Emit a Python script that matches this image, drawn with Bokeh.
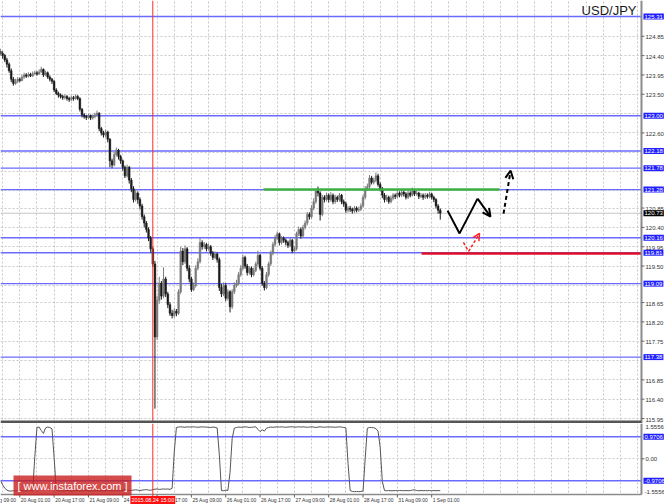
from bokeh.plotting import figure
from bokeh.models import (Range1d, FixedTicker, Span, Label, Arrow, OpenHead,
                          ColumnDataSource, BoxAnnotation)
from bokeh.layouts import column
from bokeh.embed import file_html
from bokeh.resources import INLINE

# ---------------- data ----------------
TITLE = "USD/JPY"
FIRST_BAR = 7            # index of the first visible H1 bar (19 Aug 09:00 = bar 0)
FIRST_OPEN = 124.50

CLOSE = [
    124.45, 124.40, 124.30, 124.20, 124.05, 123.85, 123.75, 123.80, 123.85, 123.82,
    123.90, 123.95, 123.92, 123.96, 123.93, 123.98, 124.00, 123.97, 124.02, 124.08,
    123.95, 124.00, 123.90, 123.85, 123.80, 123.60, 123.52, 123.48, 123.45, 123.42,
    123.45, 123.40, 123.38, 123.42, 123.40, 123.45, 123.40, 123.15, 123.02, 122.98,
    122.96, 123.00, 122.95, 122.98, 123.02, 123.06, 122.70, 122.60, 122.55, 122.62,
    122.45, 121.95, 121.85, 122.10, 122.20, 122.05, 121.95, 121.80, 121.60, 121.80,
    121.50, 121.30, 121.05, 121.20, 121.05, 120.90, 120.65, 120.50, 120.35, 120.15,
    119.90, 119.55, 117.85, 118.70, 119.10, 118.80, 119.20, 118.85, 118.60, 118.40,
    118.35, 118.45, 118.40, 118.90, 119.85, 119.60, 119.90, 119.45, 119.20, 118.95,
    119.05, 119.45, 119.60, 120.05, 119.95, 120.00, 119.90, 119.95, 119.80, 119.70,
    119.78, 119.65, 119.00, 118.85, 119.05, 118.75, 118.90, 118.55, 118.90, 119.05,
    119.10, 119.30, 119.45, 119.70, 119.50, 119.35, 119.45, 119.30, 119.40, 119.55,
    119.75, 119.45, 119.10, 119.00, 119.30, 119.55, 119.80, 120.00, 120.15, 120.25,
    120.05, 120.15, 120.10, 120.05, 119.98, 120.10, 119.85, 119.90, 120.25, 120.35,
    120.20, 120.40, 120.50, 120.70, 120.65, 120.85, 121.00, 121.25, 121.20, 120.70,
    121.10, 121.05, 121.15, 121.05, 121.15, 121.00, 121.10, 121.05, 121.15, 121.00,
    120.95, 120.80, 120.85, 120.82, 120.78, 120.85, 120.80, 120.82, 120.90, 121.10,
    121.30, 121.35, 121.55, 121.45, 121.50, 121.60, 121.40, 121.30, 121.15, 121.05,
    121.10, 121.00, 121.08, 121.15, 121.12, 121.20, 121.15, 121.22, 121.18, 121.10,
    121.20, 121.15, 121.25, 121.18, 121.20, 121.12, 121.15, 121.10, 121.15, 121.12,
    121.18, 121.10, 121.05, 120.90, 120.80, 120.73,
]
HIGH = [
    124.56, 124.50, 124.44, 124.35, 124.24, 124.10, 123.90, 123.86, 123.90, 123.89,
    123.95, 124.00, 123.99, 124.01, 124.00, 124.03, 124.05, 124.04, 124.08, 124.14,
    124.10, 124.05, 124.03, 123.94, 123.88, 123.83, 123.64, 123.56, 123.52, 123.49,
    123.50, 123.48, 123.44, 123.47, 123.46, 123.50, 123.48, 123.43, 123.18, 123.06,
    123.02, 123.05, 123.03, 123.03, 123.07, 123.12, 123.08, 122.74, 122.65, 122.68,
    122.65, 122.48, 122.00, 122.15, 122.26, 122.23, 122.09, 121.98, 121.84, 121.86,
    121.83, 121.55, 121.36, 121.28, 121.24, 121.10, 120.95, 120.70, 120.55, 120.40,
    120.20, 119.95, 119.62, 118.80, 119.25, 119.15, 119.47, 119.25, 118.90, 118.66,
    118.48, 118.52, 118.50, 118.96, 119.95, 119.92, 119.98, 119.94, 119.52, 119.25,
    119.12, 119.52, 119.68, 120.16, 120.10, 120.06, 120.04, 120.02, 119.99, 119.85,
    119.84, 119.82, 119.70, 119.08, 119.12, 119.10, 118.96, 118.94, 118.96, 119.12,
    119.18, 119.36, 119.52, 119.76, 119.74, 119.55, 119.50, 119.49, 119.46, 119.60,
    119.86, 119.78, 119.50, 119.15, 119.36, 119.60, 119.86, 120.06, 120.22, 120.30,
    120.28, 120.20, 120.19, 120.14, 120.09, 120.16, 120.13, 119.96, 120.30, 120.42,
    120.40, 120.46, 120.56, 120.76, 120.75, 120.92, 121.08, 121.30, 121.35, 121.24,
    121.16, 121.15, 121.21, 121.19, 121.22, 121.19, 121.16, 121.14, 121.20, 121.18,
    121.05, 121.00, 120.90, 120.90, 120.86, 120.90, 120.89, 120.88, 120.96, 121.16,
    121.36, 121.42, 121.62, 121.60, 121.56, 121.68, 121.65, 121.45, 121.34, 121.20,
    121.16, 121.14, 121.14, 121.20, 121.19, 121.25, 121.24, 121.28, 121.26, 121.22,
    121.25, 121.24, 121.33, 121.28, 121.25, 121.23, 121.20, 121.19, 121.20, 121.19,
    121.23, 121.21, 121.14, 121.08, 120.94, 120.84,
]
LOW = [
    124.40, 124.33, 124.25, 124.12, 124.00, 123.78, 123.70, 123.72, 123.76, 123.78,
    123.80, 123.86, 123.88, 123.89, 123.90, 123.90, 123.94, 123.93, 123.95, 124.00,
    123.90, 123.92, 123.86, 123.80, 123.74, 123.55, 123.48, 123.42, 123.40, 123.37,
    123.38, 123.35, 123.32, 123.34, 123.35, 123.37, 123.36, 123.10, 122.96, 122.93,
    122.90, 122.92, 122.90, 122.91, 122.94, 122.99, 122.64, 122.54, 122.49, 122.50,
    122.38, 121.80, 121.78, 121.82, 122.05, 121.98, 121.88, 121.72, 121.55, 121.56,
    121.42, 121.22, 120.98, 121.00, 120.95, 120.82, 120.58, 120.40, 120.28, 120.08,
    119.82, 119.48, 116.18, 117.78, 118.62, 118.72, 118.75, 118.78, 118.52, 118.34,
    118.28, 118.30, 118.33, 118.36, 118.85, 119.52, 119.55, 119.38, 119.12, 118.90,
    118.92, 119.00, 119.40, 119.56, 119.88, 119.90, 119.84, 119.86, 119.74, 119.64,
    119.66, 119.58, 118.92, 118.78, 118.80, 118.68, 118.70, 118.42, 118.50, 118.85,
    119.00, 119.05, 119.25, 119.40, 119.44, 119.28, 119.30, 119.24, 119.26, 119.36,
    119.50, 119.40, 119.04, 118.93, 118.96, 119.25, 119.50, 119.75, 119.95, 120.10,
    119.98, 120.00, 120.04, 119.98, 119.92, 119.94, 119.80, 119.80, 119.86, 120.20,
    120.14, 120.15, 120.35, 120.45, 120.58, 120.60, 120.80, 120.95, 121.12, 120.56,
    120.66, 120.98, 121.00, 120.98, 121.00, 120.94, 120.95, 120.99, 121.00, 120.94,
    120.88, 120.74, 120.75, 120.76, 120.72, 120.74, 120.75, 120.76, 120.78, 120.86,
    121.05, 121.25, 121.30, 121.40, 121.40, 121.45, 121.35, 121.24, 121.08, 120.98,
    121.00, 120.95, 120.96, 121.03, 121.06, 121.08, 121.10, 121.11, 121.12, 121.05,
    121.06, 121.10, 121.12, 121.13, 121.14, 121.06, 121.08, 121.04, 121.06, 121.07,
    121.08, 121.05, 120.99, 120.84, 120.72, 120.58,
]
INDICATOR = [
    -0.96, -1.15, -1.30, -1.38, -1.42,
    -1.42, -1.41, -1.42, -1.40, -1.42, -1.41, -1.42, -1.42, -1.40, -1.41, -1.42,
    0.10, 1.38, 1.40, 1.25, 1.12, 1.36, 1.40, 1.38, 1.32, 0.05, -1.38,
    -1.42, -1.41, -1.42, -1.42, -1.40, -1.41, -1.42, -1.42, -1.41, -1.40,
    -1.42, -1.41, -1.42, -1.40, -1.41, -1.42, -1.42, -1.41, -1.40, -1.42,
    -1.41, -1.42, -1.42, -1.40, -1.41, -1.42, -1.41, -1.40, -1.42, -1.41,
    -1.38, -1.36, -1.38, -1.40, -1.39, -1.38, -1.37, -1.38, -1.40, -1.38,
    -1.37, -1.36, -1.38, -1.39, -1.36, -1.34, -1.33, -1.35, -1.34, -1.33,
    -1.34, -1.33, -1.35, -1.30,
    0.30, 1.38,
    1.40, 1.41, 1.40, 1.39, 1.41, 1.40, 1.41, 1.41, 1.40, 1.39,
    1.40, 1.41, 1.40, 1.40, 1.39, 1.38, 1.40, 1.39, 1.36,
    0.20, -1.40, -1.41, -1.38, -1.40, -0.60, 0.90, 1.35,
    1.38, 1.40, 1.39, 1.40, 1.41, 1.40, 1.38, 1.39, 1.40, 1.41,
    1.30, 1.20, 1.28, 1.22, 1.35, 1.38, 1.40, 1.39, 1.40, 1.41,
    1.40, 1.41, 1.40, 1.39, 1.40, 1.41, 1.41, 1.40, 1.40, 1.41,
    1.40, 1.41, 1.40, 1.39, 1.40, 1.41, 1.40, 1.38, 1.40, 1.41,
    1.40, 1.39, 1.40, 1.41, 1.40, 1.40, 1.39, 1.40, 1.41, 1.40, 1.38, 1.36,
    -0.20, -1.40,
    -1.44, -1.45, -1.44, -1.45, -1.44, -1.42,
    0.00, 1.35, 1.38, 1.38, 1.37, 1.33, 1.22,
    0.50, -1.00, -1.40,
    -1.41, -1.40, -1.41, -1.41, -1.40, -1.41, -1.40, -1.40, -1.41, -1.40,
    -1.41, -1.40, -1.38, -1.37, -1.40, -1.41, -1.40, -1.41, -1.40, -1.41,
    -1.40, -1.41, -1.40, -1.41, -1.40, -1.41,
]

LEVELS = [125.31, 123.00, 122.18, 121.78, 121.28, 120.16, 119.81, 119.09, 117.38]
CURRENT = 120.73
IND_LEVELS = [0.9706, -0.9706]
IND_BOUNDS = [1.5556, -1.5556]
IND_ZERO = 0.0

Y_TICKS = [125.30, 124.85, 124.40, 123.95, 123.50, 123.05, 122.60, 122.15, 121.70,
           121.25, 120.85, 120.40, 119.95, 119.50, 119.05, 118.65, 118.20, 117.75,
           117.30, 116.85, 116.40, 115.95]
Y_HIDDEN = [125.30, 123.05, 122.15, 121.70, 121.25, 119.05, 117.30]

X_LABEL_BARS = [0, 16, 32, 48, 64, 80, 96, 112, 128, 144, 160, 176, 192, 208]
X_LABELS = ["19 Aug 09:00", "20 Aug 01:00", "20 Aug 17:00", "21 Aug 09:00",
            "24 Aug 01:00", "24 Aug 17:00", "25 Aug 09:00", "26 Aug 01:00",
            "26 Aug 17:00", "27 Aug 09:00", "28 Aug 01:00", "28 Aug 17:00",
            "31 Aug 09:00", "1 Sep 01:00"]
GRID_X_BARS = [0, 8, 16, 24, 32, 40, 48, 56, 64, 72, 80, 88, 96, 104, 112, 120,
               128, 136, 144, 152, 160, 168, 176, 184, 192, 200, 208, 216, 224,
               232, 240, 248, 256, 264, 272, 280, 288, 296, 304]

CROSS_BAR = 78
CROSS_TEXT = "2015.08.24 15:00"

GREEN_X = [129.6, 239.6]
GREEN_Y = [121.28, 121.28]
RED_X = [203.3, 305.8]
RED_Y = [119.79, 119.79]
ZIG_X = [215.4, 221.0, 229.4, 235.4]
ZIG_Y = [120.79, 120.26, 121.07, 120.65]
RED_ARROW_X = [222.8, 225.2, 230.3]
RED_ARROW_Y = [120.05, 119.84, 120.26]
DASH_ARROW_X = [241.5, 244.8]
DASH_ARROW_Y = [120.72, 121.72]

WATERMARK = "[ www.instaforex.com ]"

# ---------------- geometry / styling ----------------
FONT = "Liberation Sans"
W = 664
H_MAIN = 423
H_IND = 81
XR = (7.0, 316.53)        # whole canvas width (frame covers it all)
AXIS_X = 305.8            # price-axis position (641 px)
YR = (115.834, 125.683)   # main panel, whole canvas height
IYR = (-2.016, 1.557)     # indicator panel, whole canvas height
IND_FLOOR = -1.575        # bottom edge of indicator window (494 px)
PX_X = W / (XR[1] - XR[0])
PX_Y = H_MAIN / (YR[1] - YR[0])
PX_I = H_IND / (IYR[1] - IYR[0])

BULL = "#7a7a7a"
BEAR = "#1a1a1a"
LEVEL_COLOR = "#6a6aff"
BOX_BLUE = "#1f1fff"
GRID = "#c8c8c8"
AXIS_COLOR = "#8c8c8c"
TXT = "#333333"

bars = list(range(FIRST_BAR, FIRST_BAR + len(CLOSE)))
opens = [FIRST_OPEN] + CLOSE[:-1]
src = ColumnDataSource(dict(
    x=bars, h=HIGH[:len(bars)], l=LOW[:len(bars)],
    top=[max(o, c) for o, c in zip(opens, CLOSE)],
    bot=[min(o, c) for o, c in zip(opens, CLOSE)],
    col=[BULL if c >= o else BEAR for o, c in zip(opens, CLOSE)],
))

x_range = Range1d(*XR)


def bare_figure(height, y_range):
    f = figure(width=W, height=height, x_range=x_range, y_range=y_range,
               output_backend="svg", toolbar_location=None,
               x_axis_location=None, y_axis_location=None,
               min_border=0, min_border_left=0, min_border_right=0,
               min_border_top=0, min_border_bottom=0)
    f.outline_line_color = None
    f.background_fill_color = "white"
    f.border_fill_color = "white"
    return f


def grid_style(f, yticks):
    f.xgrid.ticker = FixedTicker(ticks=GRID_X_BARS)
    f.ygrid.ticker = FixedTicker(ticks=yticks)
    for g in (f.xgrid, f.ygrid):
        g.grid_line_color = GRID
        g.grid_line_dash = "2 2"
        g.grid_line_width = 1


def box_label(f, y, text, color, decimals_text=None):
    f.add_layout(Label(x=AXIS_X, y=y, x_offset=2, text=text,
                       text_align="left", text_baseline="middle",
                       text_font=FONT, text_font_size="6px", text_color="white",
                       background_fill_color=color, padding=1))


# ---------------- main panel ----------------
p = bare_figure(H_MAIN, Range1d(*YR))
grid_style(p, Y_TICKS)

for lv in LEVELS:
    p.add_layout(Span(location=lv, dimension="width", line_color=LEVEL_COLOR,
                      line_width=1.4, level="underlay"))
p.add_layout(Span(location=CURRENT, dimension="width", line_color="#c4c4c4",
                  line_width=1, level="underlay"))
# blank the price-scale strip
p.add_layout(BoxAnnotation(left=AXIS_X, fill_color="white", fill_alpha=1,
                           line_color=None, level="underlay"))

# candles
p.segment(x0="x", y0="h", x1="x", y1="l", color="col", line_width=1, source=src)
p.vbar(x="x", width=0.8, top="top", bottom="bot", fill_color="col",
       line_color="col", line_width=0.5, source=src)

# drawn lines
p.line(GREEN_X, GREEN_Y, line_color="#3cb043", line_width=2.5)
p.line(RED_X, RED_Y, line_color="#e0102a", line_width=2.5)

# forecast arrows
p.line(ZIG_X[:3], ZIG_Y[:3], line_color="black", line_width=2)
p.add_layout(Arrow(end=OpenHead(size=8, line_width=2, line_color="black"),
                   x_start=ZIG_X[2], y_start=ZIG_Y[2], x_end=ZIG_X[3], y_end=ZIG_Y[3],
                   line_color="black", line_width=2))
p.line(RED_ARROW_X[:2], RED_ARROW_Y[:2], line_color="#ff2020", line_width=1.5,
       line_dash="3 2")
p.add_layout(Arrow(end=OpenHead(size=7, line_width=1.5, line_color="#ff2020"),
                   x_start=RED_ARROW_X[1], y_start=RED_ARROW_Y[1],
                   x_end=RED_ARROW_X[2], y_end=RED_ARROW_Y[2],
                   line_color="#ff2020", line_width=1.5, line_dash="3 2"))
p.add_layout(Arrow(end=OpenHead(size=8, line_width=2, line_color="black"),
                   x_start=DASH_ARROW_X[0], y_start=DASH_ARROW_Y[0],
                   x_end=DASH_ARROW_X[1], y_end=DASH_ARROW_Y[1],
                   line_color="black", line_width=2, line_dash="4 3"))

# crosshair
p.add_layout(Span(location=CROSS_BAR, dimension="height", line_color="#ff2a2a",
                  line_width=1))

# price axis: line, ticks, labels
p.segment(x0=[AXIS_X], y0=[YR[0]], x1=[AXIS_X], y1=[YR[1]],
          line_color=AXIS_COLOR, line_width=2)
shown = [t for t in Y_TICKS if t not in Y_HIDDEN]
p.segment(x0=[AXIS_X] * len(shown), y0=shown,
          x1=[AXIS_X + 3 / PX_X] * len(shown), y1=shown,
          line_color="#666666", line_width=1)
for t in shown:
    p.add_layout(Label(x=AXIS_X, y=t, x_offset=4, y_offset=-1, text=f"{t:.2f}",
                       text_align="left", text_baseline="middle",
                       text_font=FONT, text_font_size="6px", text_color=TXT))
for lv in LEVELS:
    box_label(p, lv, f"{lv:.2f}", BOX_BLUE)
box_label(p, CURRENT, f"{CURRENT:.2f}", "black")

# separator between the windows
p.add_layout(BoxAnnotation(right=AXIS_X, top=YR[0] + 3 / PX_Y, fill_color="#555555",
                           fill_alpha=1, line_color=None))

p.add_layout(Label(x=AXIS_X, y=YR[1], x_offset=-5, y_offset=-2, text=TITLE,
                   text_align="right", text_baseline="top", text_font=FONT,
                   text_font_size="13px", text_color="#1a1a1a"))

# ---------------- indicator panel ----------------
q = bare_figure(H_IND, Range1d(*IYR))
grid_style(q, [IND_ZERO])
for lv in IND_LEVELS:
    q.add_layout(Span(location=lv, dimension="width", line_color=LEVEL_COLOR,
                      line_width=1.4, level="underlay"))
q.add_layout(BoxAnnotation(left=AXIS_X, fill_color="white", fill_alpha=1,
                           line_color=None, level="underlay"))
q.add_layout(BoxAnnotation(top=IND_FLOOR, fill_color="white", fill_alpha=1,
                           line_color=None, level="underlay"))

ix = list(range(FIRST_BAR, FIRST_BAR + len(INDICATOR)))
q.line(ix, INDICATOR, line_color="#555555", line_width=1)

# axes of the indicator window
q.segment(x0=[AXIS_X], y0=[IND_FLOOR], x1=[AXIS_X], y1=[IYR[1]],
          line_color=AXIS_COLOR, line_width=2)
q.segment(x0=[XR[0]], y0=[IND_FLOOR], x1=[AXIS_X], y1=[IND_FLOOR],
          line_color=AXIS_COLOR, line_width=1.5)
q.segment(x0=X_LABEL_BARS, y0=[IND_FLOOR] * len(X_LABEL_BARS),
          x1=X_LABEL_BARS, y1=[IND_FLOOR - 3 / PX_I] * len(X_LABEL_BARS),
          line_color="#666666", line_width=1)
q.segment(x0=[AXIS_X], y0=[IND_ZERO], x1=[AXIS_X + 3 / PX_X], y1=[IND_ZERO],
          line_color="#666666", line_width=1)

for b, t in zip(X_LABEL_BARS, X_LABELS):
    q.add_layout(Label(x=b, y=IND_FLOOR, x_offset=1, y_offset=-5.5, text=t,
                       text_align="left", text_baseline="middle", text_font=FONT,
                       text_font_size="5px", text_color=TXT))

q.add_layout(Label(x=AXIS_X, y=IND_ZERO, x_offset=4, text=f"{IND_ZERO:.2f}",
                   text_align="left", text_baseline="middle", text_font=FONT,
                   text_font_size="6px", text_color=TXT))
for lv in IND_LEVELS:
    box_label(q, lv, f"{lv:.4f}", BOX_BLUE)
q.add_layout(Label(x=AXIS_X, y=IND_BOUNDS[0], x_offset=4, text=f"{IND_BOUNDS[0]:.4f}",
                   text_align="left", text_baseline="middle", text_font=FONT,
                   text_font_size="6px", text_color=TXT, y_offset=-3))
q.add_layout(Label(x=AXIS_X, y=IND_BOUNDS[1], x_offset=3, text=f"{IND_BOUNDS[1]:.4f}",
                   text_align="left", text_baseline="middle", text_font=FONT,
                   text_font_size="6px", text_color=TXT, y_offset=2))

q.add_layout(Span(location=CROSS_BAR, dimension="height", line_color="#ff2a2a",
                  line_width=1))

q.add_layout(Label(x=XR[0], y=IND_FLOOR, x_offset=13, y_offset=-1, text=WATERMARK,
                   text_align="left", text_baseline="bottom", text_font=FONT,
                   text_font_size="11px", text_color="white",
                   background_fill_color="#c81e1e", background_fill_alpha=0.8,
                   padding=4))
q.add_layout(Label(x=CROSS_BAR, y=IND_FLOOR, y_offset=-5.5, text=CROSS_TEXT,
                   text_align="center", text_baseline="middle", text_font=FONT,
                   text_font_size="5.5px", text_color="white",
                   background_fill_color="#ff1010", padding=1))

layout = column(p, q, spacing=0)
open("out.html", "w").write(file_html(layout, INLINE))
